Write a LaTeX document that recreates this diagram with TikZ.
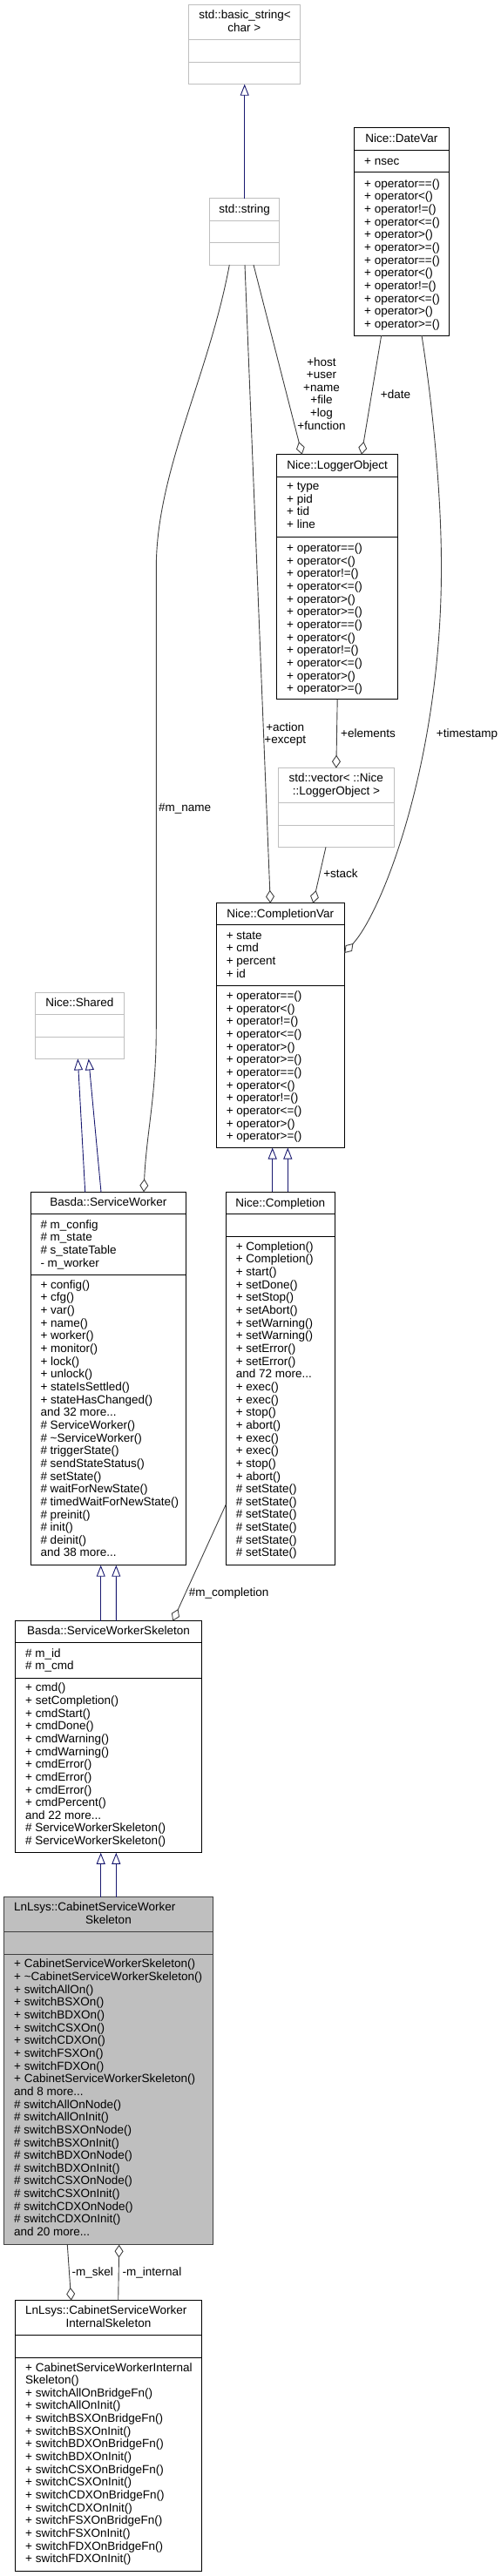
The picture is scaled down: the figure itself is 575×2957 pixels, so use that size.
\documentclass[tikz,border=0pt]{standalone}
\usepackage{fontspec}
\setmainfont{Liberation Sans}
\usetikzlibrary{arrows.meta,calc}
\definecolor{inhcol}{HTML}{191970}
\definecolor{aggcol}{HTML}{404040}
\definecolor{extcol}{HTML}{BFBFBF}
\definecolor{cabfill}{HTML}{BFBFBF}
\newcommand\fs{\rule{0pt}{10.8pt}}
\newcommand\ubox[6]{\node[#1,anchor=north west,minimum width={#5-#3},minimum height={#6-#4}] (#2) at (#3,#4) {};}
\newcommand\udiv[4]{\draw[#1] (#2,#4) -- (#3,#4);}
\begin{document}
\begin{tikzpicture}[x=1pt,y=-1pt,
  every node/.style={inner sep=0pt,outer sep=0pt},
  txt/.style={font=\fontsize{13.5}{14.65}\selectfont},
  sect/.style={txt,align=left,anchor=north west},
  ttl/.style={txt,anchor=base},
  ttlw/.style={txt,anchor=base west},
  lbl/.style={txt,anchor=base},
  lblm/.style={txt,align=center,anchor=north},
  docbox/.style={draw=black,line width=0.9pt,fill=white},
  extbox/.style={draw=extcol,line width=0.9pt,fill=white},
  cabbox/.style={draw=aggcol,line width=0.9pt,fill=cabfill},
  docdiv/.style={draw=black,line width=0.9pt},
  extdiv/.style={draw=extcol,line width=0.9pt},
  cabdiv/.style={draw=aggcol,line width=0.9pt},
  inh/.style={draw=inhcol,line width=0.9pt,-{Triangle[open,fill=white,length=13pt,width=10pt]}},
  agg/.style={draw=aggcol,line width=0.9pt,-{Diamond[open,fill=white,length=15pt,width=10pt]}}
]
\useasboundingbox (0,0) rectangle (575,2957);

% std::basic_string<char>
\ubox{extbox}{bstr}{216.7}{5.7}{344}{96.7}
\udiv{extdiv}{216.7}{344}{45.7}
\udiv{extdiv}{216.7}{344}{71}
\node[ttlw] (bstrt1) at (228.3,22) {std::basic\_string<};
\node[ttl] (bstrt2) at (280.35,37) {char >};

% std::string
\ubox{extbox}{sstr}{240.7}{227.7}{320.7}{304}
\udiv{extdiv}{240.7}{320.7}{253.3}
\udiv{extdiv}{240.7}{320.7}{278.7}
\node[ttl] (sstrt) at (280.7,244.3) {std::string};

% Nice::DateVar
\ubox{docbox}{datevar}{406.7}{146.7}{515}{385}
\udiv{docdiv}{406.7}{515}{172.7}
\udiv{docdiv}{406.7}{515}{197.7}
\node[ttl] (datevart) at (460.85,163.3) {Nice::DateVar};
\node[sect] (datevara) at (418.2,178.5) {\fs+ nsec};
\node[sect] (datevaro) at (418.2,204.5) {\fs+ operator==()\\+ operator<()\\+ operator!=()\\+ operator<=()\\+ operator>()\\+ operator>=()\\+ operator==()\\+ operator<()\\+ operator!=()\\+ operator<=()\\+ operator>()\\+ operator>=()};

% Nice::LoggerObject
\ubox{docbox}{logobj}{317.7}{521.7}{456.7}{802.7}
\udiv{docdiv}{317.7}{456.7}{547.3}
\udiv{docdiv}{317.7}{456.7}{616.7}
\node[ttl] (logobjt) at (387.2,538.3) {Nice::LoggerObject};
\node[sect] (logobja) at (329.2,551.8) {\fs+ type\\+ pid\\+ tid\\+ line};
\node[sect] (logobjo) at (329.2,622.8) {\fs+ operator==()\\+ operator<()\\+ operator!=()\\+ operator<=()\\+ operator>()\\+ operator>=()\\+ operator==()\\+ operator<()\\+ operator!=()\\+ operator<=()\\+ operator>()\\+ operator>=()};

% std::vector< ::Nice::LoggerObject >
\ubox{extbox}{vec}{319.7}{881.7}{452}{972.3}
\udiv{extdiv}{319.7}{452}{921.7}
\udiv{extdiv}{319.7}{452}{947.3}
\node[ttlw] (vect1) at (331.5,897.6) {std::vector< ::Nice};
\node[ttl] (vect2) at (385.85,912.6) {::LoggerObject >};

% Nice::CompletionVar
\ubox{docbox}{cvar}{248.3}{1036.7}{395.3}{1317.5}
\udiv{docdiv}{248.3}{395.3}{1061.7}
\udiv{docdiv}{248.3}{395.3}{1131}
\node[ttl] (cvart) at (321.8,1053.3) {Nice::CompletionVar};
\node[sect] (cvara) at (259.8,1067.5) {\fs+ state\\+ cmd\\+ percent\\+ id};
\node[sect] (cvaro) at (259.8,1136.8) {\fs+ operator==()\\+ operator<()\\+ operator!=()\\+ operator<=()\\+ operator>()\\+ operator>=()\\+ operator==()\\+ operator<()\\+ operator!=()\\+ operator<=()\\+ operator>()\\+ operator>=()};

% Nice::Shared
\ubox{extbox}{shared}{40.3}{1139.3}{142.3}{1215.4}
\udiv{extdiv}{40.3}{142.3}{1164.9}
\udiv{extdiv}{40.3}{142.3}{1190.2}
\node[ttl] (sharedt) at (91.3,1155.1) {Nice::Shared};

% Basda::ServiceWorker
\ubox{docbox}{sw}{35}{1368.3}{213.7}{1796.7}
\udiv{docdiv}{35}{213.7}{1393.3}
\udiv{docdiv}{35}{213.7}{1463.3}
\node[ttl] (swt) at (124.35,1384.3) {Basda::ServiceWorker};
\node[sect] (swa) at (46.5,1399.5) {\fs\# m\_config\\\# m\_state\\\# s\_stateTable\\- m\_worker};
\node[sect] (swo) at (46.5,1468.5) {\fs+ config()\\+ cfg()\\+ var()\\+ name()\\+ worker()\\+ monitor()\\+ lock()\\+ unlock()\\+ stateIsSettled()\\+ stateHasChanged()\\and 32 more...\\\# ServiceWorker()\\\# \textasciitilde ServiceWorker()\\\# triggerState()\\\# sendStateStatus()\\\# setState()\\\# waitForNewState()\\\# timedWaitForNewState()\\\# preinit()\\\# init()\\\# deinit()\\and 38 more...};

% Nice::Completion
\ubox{docbox}{cmp}{259.3}{1368.2}{384.3}{1796.7}
\udiv{docdiv}{259.3}{384.3}{1393.6}
\udiv{docdiv}{259.3}{384.3}{1419.3}
\node[ttl] (cmpt) at (321.8,1385) {Nice::Completion};
\node[sect] (cmpo) at (270.8,1424.5) {\fs+ Completion()\\+ Completion()\\+ start()\\+ setDone()\\+ setStop()\\+ setAbort()\\+ setWarning()\\+ setWarning()\\+ setError()\\+ setError()\\and 72 more...\\+ exec()\\+ exec()\\+ stop()\\+ abort()\\+ exec()\\+ exec()\\+ stop()\\+ abort()\\\# setState()\\\# setState()\\\# setState()\\\# setState()\\\# setState()\\\# setState()};

% Basda::ServiceWorkerSkeleton
\ubox{docbox}{sws}{17.7}{1860.7}{231.3}{2126.8}
\udiv{docdiv}{17.7}{231.3}{1885.7}
\udiv{docdiv}{17.7}{231.3}{1926.1}
\node[ttl] (swst) at (124.5,1876.6) {Basda::ServiceWorkerSkeleton};
\node[sect] (swsa) at (29.2,1891.2) {\fs\# m\_id\\\# m\_cmd};
\node[sect] (swso) at (29.2,1931) {\fs+ cmd()\\+ setCompletion()\\+ cmdStart()\\+ cmdDone()\\+ cmdWarning()\\+ cmdWarning()\\+ cmdError()\\+ cmdError()\\+ cmdError()\\+ cmdPercent()\\and 22 more...\\\# ServiceWorkerSkeleton()\\\# ServiceWorkerSkeleton()};

% LnLsys::CabinetServiceWorkerSkeleton
\ubox{cabbox}{cab}{4.7}{2177.8}{244.3}{2576.7}
\udiv{cabdiv}{4.7}{244.3}{2217.8}
\udiv{cabdiv}{4.7}{244.3}{2243.5}
\node[ttlw] (cabt1) at (16.2,2193.6) {LnLsys::CabinetServiceWorker};
\node[ttl] (cabt2) at (124.5,2208.6) {Skeleton};
\node[sect] (cabo) at (16.2,2248.1) {\fs+ CabinetServiceWorkerSkeleton()\\+ \textasciitilde CabinetServiceWorkerSkeleton()\\+ switchAllOn()\\+ switchBSXOn()\\+ switchBDXOn()\\+ switchCSXOn()\\+ switchCDXOn()\\+ switchFSXOn()\\+ switchFDXOn()\\+ CabinetServiceWorkerSkeleton()\\and 8 more...\\\# switchAllOnNode()\\\# switchAllOnInit()\\\# switchBSXOnNode()\\\# switchBSXOnInit()\\\# switchBDXOnNode()\\\# switchBDXOnInit()\\\# switchCSXOnNode()\\\# switchCSXOnInit()\\\# switchCDXOnNode()\\\# switchCDXOnInit()\\and 20 more...};

% LnLsys::CabinetServiceWorkerInternalSkeleton
\ubox{docbox}{int}{17.7}{2640.7}{231.3}{2951}
\udiv{docdiv}{17.7}{231.3}{2680.7}
\udiv{docdiv}{17.7}{231.3}{2706}
\node[ttlw] (intt1) at (29.2,2656.6) {LnLsys::CabinetServiceWorker};
\node[ttl] (intt2) at (124.5,2671) {InternalSkeleton};
\node[sect] (into) at (29.2,2711.2) {\fs+ CabinetServiceWorkerInternal\\Skeleton()\\+ switchAllOnBridgeFn()\\+ switchAllOnInit()\\+ switchBSXOnBridgeFn()\\+ switchBSXOnInit()\\+ switchBDXOnBridgeFn()\\+ switchBDXOnInit()\\+ switchCSXOnBridgeFn()\\+ switchCSXOnInit()\\+ switchCDXOnBridgeFn()\\+ switchCDXOnInit()\\+ switchFSXOnBridgeFn()\\+ switchFSXOnInit()\\+ switchFDXOnBridgeFn()\\+ switchFDXOnInit()};

% inheritance
\draw[inh] (sstr.north) -- (sstr.north |- bstr.south);
\draw[inh] ([xshift=-26.65pt]sw.north) -- ([xshift=-2pt]shared.south);
\draw[inh] ([xshift=-8.35pt]sw.north) -- ([xshift=10.4pt]shared.south);
\draw[inh] ([xshift=-9.1pt]cmp.north) -- ([xshift=-9.1pt]cvar.south);
\draw[inh] ([xshift=8.5pt]cmp.north) -- ([xshift=8.5pt]cvar.south);
\draw[inh] ([xshift=-8.8pt]sws.north) -- ([xshift=-8.65pt]sw.south);
\draw[inh] ([xshift=8.8pt]sws.north) -- ([xshift=8.95pt]sw.south);
\draw[inh] ([xshift=-8.8pt]cab.north) -- ([xshift=-8.8pt]sws.south);
\draw[inh] ([xshift=8.8pt]cab.north) -- ([xshift=8.8pt]sws.south);

% aggregation
\draw[agg] ([xshift=10.3pt]sstr.south) -- ([xshift=-40.5pt]logobj.north);
\draw[agg] ([xshift=-23.15pt]datevar.south) -- ([xshift=27.8pt]logobj.north);
\draw[agg] ([xshift=23.15pt]datevar.south) .. controls (495,455) and (506.5,560) .. (506.5,650) .. controls (507,870) and (440,1045) .. ([yshift=-57.3pt]cvar.north east);
\draw[agg] ([xshift=0.3pt]sstr.south) -- ([xshift=-11.5pt]cvar.north);
\draw[agg] (logobj.south) -- (vec.north);
\draw[agg] ([xshift=-11.85pt]vec.south) -- ([xshift=37.5pt]cvar.north);
\draw[agg] ([xshift=-17.4pt]sstr.south) .. controls (240,430) and (180,540) .. (179.3,650) -- (179.3,1180) .. controls (179.3,1260) and (168,1300) .. ([xshift=40.65pt]sw.north);
\draw[agg] ([yshift=-358.8pt]cmp.north west) -- ([xshift=73.8pt]sws.north);
\draw[agg] ([xshift=-47.2pt]cab.south) -- ([xshift=-42.8pt]int.north);
\draw[agg] ([xshift=11.2pt]int.north) -- ([xshift=12.2pt]cab.south);

% labels
\node[lblm] (lhost) at (369,409.2) {\fs+host\\+user\\+name\\+file\\+log\\+function};
\node[lbl] (ldate) at (454,457) {+date};
\node[lbl] (lts) at (536,846) {+timestamp};
\node[lblm] (lact) at (327.3,828.5) {\fs+action\\+except};
\node[lbl] (lel) at (422.5,846) {+elements};
\node[lbl] (lst) at (391,1007.6) {+stack};
\node[lbl] (lmn) at (212.2,931.2) {\#m\_name};
\node[lbl] (lmc) at (262.7,1832) {\#m\_completion};
\node[lbl] (lsk) at (106.3,2612) {-m\_skel};
\node[lbl] (lint) at (174.5,2612) {-m\_internal};
\end{tikzpicture}
\end{document}
